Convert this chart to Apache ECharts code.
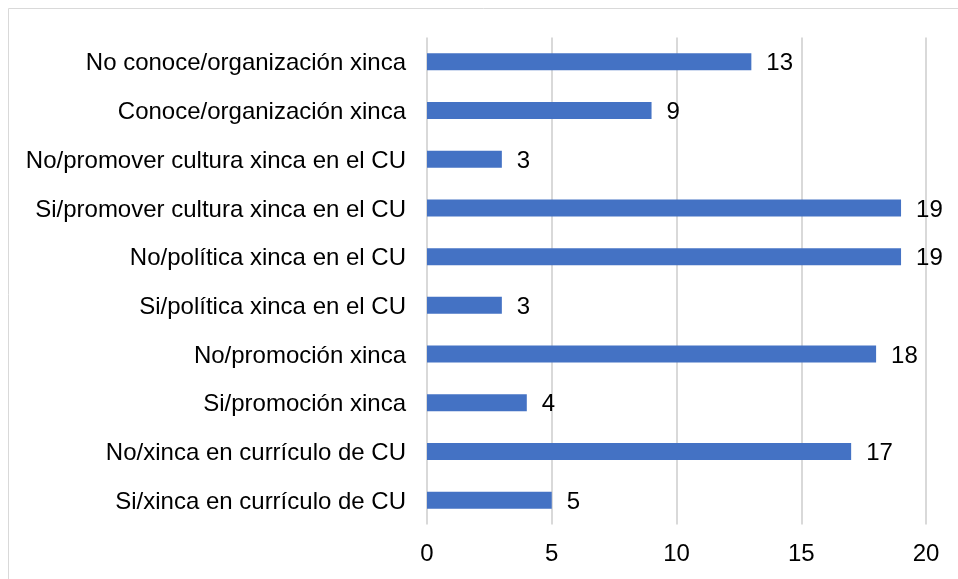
<!DOCTYPE html>
<html>
<head>
<meta charset="utf-8">
<script src="https://cdn.jsdelivr.net/npm/echarts@6/dist/echarts.min.js"></script>
<style>
  html, body { margin: 0; padding: 0; background: #fff; }
  #chart { width: 958px; height: 579px; }
</style>
</head>
<body>
<div id="chart"></div>
<script>
// categories from bottom to top
const categories = [
  'Si/xinca en currículo de CU',
  'No/xinca en currículo de CU',
  'Si/promoción xinca',
  'No/promoción xinca',
  'Si/política xinca en el CU',
  'No/política xinca en el CU',
  'Si/promover cultura xinca en el CU',
  'No/promover cultura xinca en el CU',
  'Conoce/organización xinca',
  'No conoce/organización xinca'
]
const values = [5, 17, 4, 18, 3, 19, 19, 3, 9, 13]
const xTicks = [0, 5, 10, 15, 20]

const chart = echarts.init(document.getElementById('chart'))
chart.setOption({
  animation: false,
  textStyle: { fontFamily: 'Liberation Sans, Arial, sans-serif' },
  graphic: [
    {
      type: 'rect',
      shape: { x: 8.5, y: 8.5, width: 1200, height: 800 },
      style: { fill: 'none', stroke: '#d9d9d9', lineWidth: 1 },
      silent: true
    }
  ],
  grid: { left: 427, right: 32, top: 37.5, bottom: 54.5, containLabel: false },
  xAxis: {
    type: 'value',
    min: xTicks[0],
    max: xTicks[xTicks.length - 1],
    interval: 5,
    axisLine: { show: false },
    axisTick: { show: false },
    splitLine: { lineStyle: { color: '#d9d9d9', width: 2 } },
    axisLabel: { color: '#000', fontSize: 24, margin: 18 }
  },
  yAxis: {
    type: 'category',
    data: categories,
    axisLine: { show: false },
    axisTick: { show: false },
    // small lineHeight + top align nudges the text ~2px down, like the original
    axisLabel: { color: '#000', fontSize: 24, margin: 21, verticalAlign: 'top', lineHeight: 4 }
  },
  series: [
    {
      type: 'bar',
      data: values,
      barWidth: 17,
      itemStyle: { color: '#4472C4' },
      label: {
        show: true,
        position: 'right',
        distance: 15,
        offset: [0, 2],
        color: '#000',
        fontSize: 24
      }
    }
  ]
})
</script>
</body>
</html>
